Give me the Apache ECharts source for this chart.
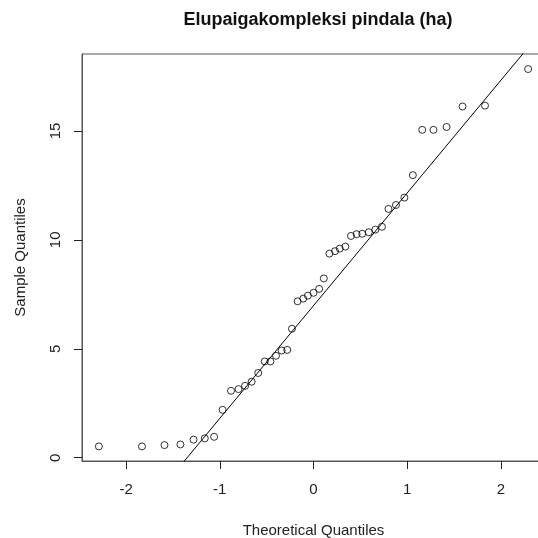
<!DOCTYPE html>
<html lang="et">
<head>
<meta charset="utf-8">
<title>Elupaigakompleksi pindala (ha)</title>
<script src="https://cdn.jsdelivr.net/npm/echarts@6/dist/echarts.min.js"></script>
<style>
  html, body { margin: 0; padding: 0; background: #fff; }
  #main { width: 538px; height: 538px; }
</style>
</head>
<body>
<div id="main"></div>
<script>
// theoretical quantiles (x)
var theoretical = [-2.29, -1.83, -1.59, -1.42, -1.28, -1.16, -1.06, -0.97, -0.88, -0.80,
  -0.73, -0.66, -0.59, -0.52, -0.46, -0.40, -0.34, -0.28, -0.23, -0.17,
  -0.11, -0.06, 0, 0.06, 0.11, 0.17, 0.23, 0.28, 0.34, 0.40,
  0.46, 0.52, 0.59, 0.66, 0.73, 0.80, 0.88, 0.97, 1.06, 1.16,
  1.28, 1.42, 1.59, 1.83, 2.29];
// sample quantiles (y)
var sample = [0.52, 0.52, 0.58, 0.61, 0.83, 0.89, 0.96, 2.20, 3.07, 3.15,
  3.30, 3.49, 3.89, 4.42, 4.42, 4.68, 4.92, 4.95, 5.92, 7.18,
  7.30, 7.44, 7.57, 7.75, 8.23, 9.37, 9.48, 9.60, 9.69, 10.18,
  10.26, 10.28, 10.35, 10.47, 10.60, 11.42, 11.60, 11.94, 12.97, 15.05,
  15.05, 15.18, 16.12, 16.16, 17.84];
var xTicks = [-2, -1, 0, 1, 2];
var yTicks = [0, 5, 10, 15];

// qqline: through the 1st and 3rd quartiles
function quantile7(arr, p) {
  var s = arr.slice().sort(function(a, b){ return a - b; });
  var h = (s.length - 1) * p, lo = Math.floor(h);
  return s[lo] + (h - lo) * ((s[lo + 1] !== undefined ? s[lo + 1] : s[lo]) - s[lo]);
}
var q1 = quantile7(sample, 0.25), q3 = quantile7(sample, 0.75);
var z = 0.6744898;
var slope = (q3 - q1) / (2 * z);
var intercept = q1 + z * slope;
var lineData = [[-3, intercept - 3 * slope], [3, intercept + 3 * slope]];

var points = [];
for (var i = 0; i < sample.length; i++) points.push([theoretical[i], sample[i]]);

var font = 'Liberation Sans, Arial, sans-serif';
var chart = echarts.init(document.getElementById('main'));
chart.setOption({
  animation: false,
  backgroundColor: '#fff',
  title: {
    text: 'Elupaigakompleksi pindala (ha)',
    left: 313, top: 6, textAlign: 'center',
    textStyle: { fontFamily: font, fontSize: 18, fontWeight: 'bold', color: '#111' }
  },
  grid: {
    left: 82, top: 54, right: -7, bottom: 77,
    containLabel: false, outerBoundsMode: 'none',
    show: true, borderColor: '#555', borderWidth: 1, backgroundColor: 'transparent'
  },
  xAxis: {
    type: 'value', min: -2.47, max: 2.47,
    name: 'Theoretical Quantiles', nameLocation: 'middle', nameGap: 62,
    nameTextStyle: { fontFamily: font, fontSize: 15, color: '#222' },
    splitLine: { show: false },
    axisLine: { show: true, onZero: false, lineStyle: { color: '#555' } },
    axisTick: { show: true, length: 8, lineStyle: { color: '#222', width: 1 }, customValues: xTicks },
    axisLabel: { fontFamily: font, fontSize: 15, color: '#222', margin: 21, customValues: xTicks }
  },
  yAxis: {
    type: 'value', min: -0.15, max: 18.53,
    name: 'Sample Quantiles', nameLocation: 'middle', nameGap: 54, nameRotate: 90,
    nameTextStyle: { fontFamily: font, fontSize: 15, color: '#222' },
    splitLine: { show: false },
    axisLine: { show: true, onZero: false, lineStyle: { color: '#555' } },
    axisTick: { show: true, length: 8, lineStyle: { color: '#222', width: 1 }, customValues: yTicks },
    axisLabel: { fontFamily: font, fontSize: 15, color: '#222', margin: 19, rotate: 90, customValues: yTicks }
  },
  series: [
    {
      type: 'line', data: lineData, showSymbol: false, clip: true,
      lineStyle: { color: '#000', width: 1 }, silent: true
    },
    {
      type: 'scatter', data: points, symbol: 'circle', symbolSize: 7,
      itemStyle: { color: 'transparent', borderColor: '#000', borderWidth: 1 }
    }
  ]
});
</script>
</body>
</html>
